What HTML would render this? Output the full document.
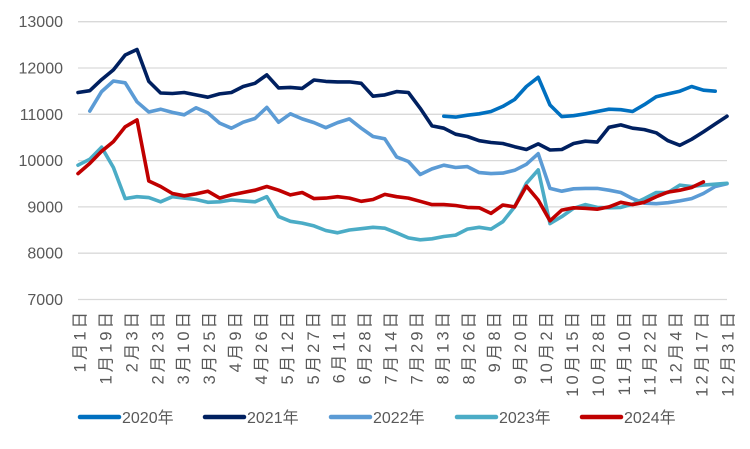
<!DOCTYPE html>
<html><head><meta charset="utf-8">
<style>
html,body{margin:0;padding:0;background:#fff;}
svg{display:block;font-family:"Liberation Sans","Noto Sans CJK SC",sans-serif;}
</style></head>
<body>
<svg id="chart" width="750" height="449">
<g id="grid"></g>
<g id="yaxis"></g>
<g id="xaxis"></g>
<g id="series"></g>
<g id="legend"></g>
</svg>
<script>
const xLabels = ["1月1日","1月19日","2月3日","2月23日","3月10日","3月25日","4月9日","4月26日","5月12日","5月27日","6月11日","6月28日","7月14日","7月29日","8月13日","8月26日","9月8日","9月20日","10月2日","10月15日","10月28日","11月10日","11月22日","12月4日","12月17日","12月31日"];
const yTicks = [7000,8000,9000,10000,11000,12000,13000];
const seriesNames = ["2020年","2021年","2022年","2023年","2024年"];
const seriesColors = ["#0070c0","#002060","#5b9bd5","#4bacc6","#c00000"];
const s2020 = [null,null,null,null,null,null,null,null,null,null,null,null,null,null,null,null,null,null,null,null,null,null,null,null,null,null,null,null,null,null,null,10960,10940,10980,11010,11060,11170,11320,11600,11800,11200,10950,10970,11010,11060,11110,11100,11060,11210,11380,11440,11500,11600,11520,11500,null];
const s2021 = [11470,11510,11750,11960,12280,12400,11710,11460,11450,11470,11420,11370,11440,11470,11600,11670,11850,11570,11580,11560,11740,11710,11700,11700,11670,11390,11420,11490,11470,11130,10750,10700,10570,10520,10430,10390,10370,10300,10240,10360,10230,10240,10370,10420,10400,10720,10770,10700,10670,10600,10430,10330,10460,10620,10790,10960];
const s2022 = [null,11070,11490,11720,11680,11270,11050,11110,11040,10990,11140,11030,10810,10700,10830,10910,11150,10830,11010,10900,10820,10710,10820,10900,10700,10520,10470,10080,9980,9700,9820,9900,9850,9870,9740,9720,9730,9790,9920,10150,9400,9340,9390,9400,9400,9360,9310,9180,9080,9070,9090,9130,9180,9290,9440,9500];
const s2023 = [9900,10030,10290,9850,9180,9220,9200,9110,9220,9190,9160,9100,9110,9150,9130,9110,9220,8790,8690,8650,8590,8490,8440,8500,8530,8560,8540,8440,8330,8290,8310,8360,8390,8520,8560,8520,8680,9000,9510,9800,8640,8790,8970,9050,8990,8980,8990,9060,9180,9310,9310,9470,9440,9470,9490,9510];
const s2024 = [9720,9940,10200,10410,10730,10880,9560,9440,9290,9240,9280,9340,9190,9260,9310,9360,9440,9360,9260,9310,9180,9190,9220,9190,9120,9160,9270,9220,9190,9120,9050,9050,9030,8990,8980,8860,9040,9000,9450,9150,8700,8930,8980,8970,8950,9000,9100,9050,9100,9220,9320,9360,9420,9540,null,null];
const allSeries = [s2020,s2021,s2022,s2023,s2024];

const NS="http://www.w3.org/2000/svg";
const X0=78, X1=727, Y13=21.7, PXPER=0.0463;
function yScale(v){return Y13+(13000-v)*PXPER;}
function xScale(i,n){return X0+i*(X1-X0)/(n-1);}
function mk(tag,attrs,parent){const e=document.createElementNS(NS,tag);for(const k in attrs)e.setAttribute(k,attrs[k]);parent.appendChild(e);return e;}

const grid=document.getElementById('grid'), yax=document.getElementById('yaxis'), xax=document.getElementById('xaxis'), ser=document.getElementById('series'), leg=document.getElementById('legend');
yTicks.forEach(t=>{
  const l=mk('line',{x1:X0,x2:X1,y1:yScale(t),y2:yScale(t),stroke:'#d9d9d9','stroke-width':1.3},grid);
  
  
  const tx=mk('text',{x:63,y:yScale(t)+5.5,'text-anchor':'end','font-size':16,fill:'#595959'},yax);
  tx.textContent=t;
  
  
});
xLabels.forEach((lab,k)=>{
  const x=80+k*(728-80)/(xLabels.length-1);
  const tx=mk('text',{x:0,y:0,transform:`translate(${x+5.5},309) rotate(-90)`,'text-anchor':'end','font-size':16.5,'letter-spacing':3,fill:'#595959'},xax);
  tx.textContent=lab;
  
  
});
allSeries.forEach((s,si)=>{
  let d='';let pen=false;
  s.forEach((v,i)=>{
    if(v==null){pen=false;return;}
    d+=(pen?'L':'M')+xScale(i,s.length).toFixed(1)+','+yScale(v).toFixed(1);pen=true;
  });
  const p=mk('path',{d:d,fill:'none',stroke:seriesColors[si],'stroke-width':3.6,'stroke-linejoin':'round','stroke-linecap':'round'},ser);
  
  
});
const legX=[78,203,329,455,580];
seriesNames.forEach((n,si)=>{
  const g=mk('g',{},leg);
  
  
  mk('line',{x1:legX[si]+2,x2:legX[si]+41,y1:417,y2:417,stroke:seriesColors[si],'stroke-width':4.5,'stroke-linecap':'round'},g);
  const t=mk('text',{x:legX[si]+44,y:423,'font-size':16,fill:'#595959'},g);
  t.textContent=n;
});
</script>
</body></html>
